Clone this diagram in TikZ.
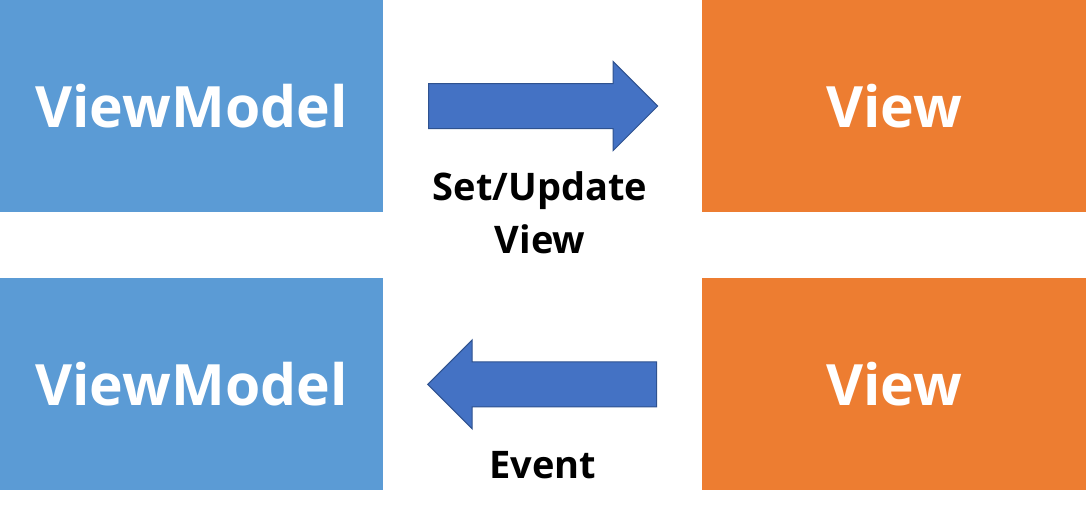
\documentclass[tikz,border=0pt]{standalone}
\usepackage{fontspec}
\setmainfont{Open Sans}
\usetikzlibrary{positioning, calc, shapes.arrows}
\definecolor{vmblue}{HTML}{5B9BD5}
\definecolor{vieworange}{HTML}{ED7D31}
\definecolor{arrowblue}{HTML}{4472C4}
\definecolor{arrowline}{HTML}{2F528F}
\tikzset{
    every node/.style={font=\bfseries},
    vmbox/.style={fill=vmblue, minimum width=383pt, minimum height=212pt, inner sep=0pt, text=white, font=\fontsize{57}{70}\selectfont\bfseries},
    viewbox/.style={fill=vieworange, minimum width=384pt, minimum height=212pt, inner sep=0pt, text=white, font=\fontsize{57}{70}\selectfont\bfseries},
    fatarrow/.style={single arrow, draw=arrowline, fill=arrowblue, line width=1pt, minimum height=229pt, single arrow head extend=22pt, single arrow tip angle=90, inner xsep=0pt, inner ysep=22pt, text height=0pt, text depth=0pt, anchor=tail},
    arrowtext/.style={align=center, font=\fontsize{38}{53}\selectfont\bfseries},
}
\begin{document}
\begin{tikzpicture}[x=1pt, y=-1pt, node distance=66pt and 319pt]
\useasboundingbox (0,0) rectangle (1086,515);
% the four boxes
\node[vmbox] (vm-top) at (191.5,106) {ViewModel};
\node[viewbox, right=319pt of vm-top] (view-top) {View};
\node[vmbox, below=66pt of vm-top] (vm-bot) {ViewModel};
\node[viewbox, below=66pt of view-top] (view-bot) {View};

% block arrows between them
\node[fatarrow] (set-arrow) at ([xshift=45pt]vm-top.east) {};
\node[fatarrow, shape border rotate=180] (event-arrow) at ([xshift=-45pt]view-bot.west) {};

\node[arrowtext] (set-text) at (540,213) {Set/Update\\View};
\node[arrowtext] (event-text) at (543,465) {Event};
\end{tikzpicture}
\end{document}
